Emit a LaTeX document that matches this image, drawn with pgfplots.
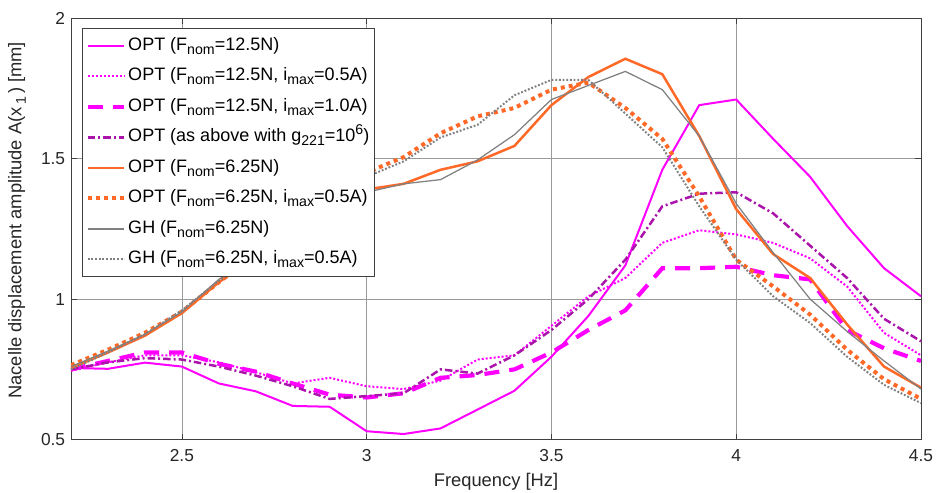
\documentclass[border=0pt]{standalone}
\usepackage{fontspec}
\setmainfont{Liberation Sans}
\usepackage{pgfplots}
\pgfplotsset{compat=1.18}
\usepackage{pgfplotstable}

\definecolor{optmag}{RGB}{255,0,255}
\definecolor{optpur}{RGB}{170,20,170}
\definecolor{optorg}{RGB}{255,105,40}
\definecolor{ghgray}{RGB}{128,128,128}
\definecolor{axcol}{RGB}{64,64,64}

% Nacelle displacement amplitude [mm] versus excitation frequency [Hz]
% s1: OPT 12.5N, s2: OPT 12.5N/0.5A, s3: OPT 12.5N/1.0A, s4: OPT g221=1e6,
% s5: OPT 6.25N, s6: OPT 6.25N/0.5A, s7: GH 6.25N, s8: GH 6.25N/0.5A
\pgfplotstableread{
f   s1    s2    s3    s4    s5    s6    s7    s8
2.2 0.755 0.745 0.750 0.750 0.755 0.765 0.760 0.750
2.3 0.752 0.775 0.780 0.775 0.810 0.820 0.815 0.810
2.4 0.774 0.800 0.810 0.790 0.870 0.880 0.875 0.875
2.5 0.760 0.800 0.810 0.785 0.950 0.955 0.955 0.960
2.6 0.700 0.775 0.770 0.760 1.060 1.060 1.070 1.065
2.7 0.672 0.740 0.742 0.728 1.150 1.160 1.160 1.160
2.8 0.620 0.700 0.700 0.690 1.240 1.260 1.250 1.260
2.9 0.617 0.720 0.660 0.645 1.320 1.360 1.330 1.350
3.0 0.530 0.690 0.650 0.655 1.390 1.450 1.380 1.435
3.1 0.520 0.680 0.665 0.665 1.410 1.505 1.410 1.490
3.2 0.540 0.710 0.720 0.750 1.460 1.590 1.425 1.575
3.3 0.607 0.785 0.730 0.735 1.490 1.650 1.495 1.620
3.4 0.674 0.800 0.750 0.800 1.545 1.680 1.585 1.725
3.5 0.795 0.905 0.810 0.890 1.690 1.745 1.710 1.780
3.6 0.940 1.010 0.890 1.000 1.790 1.770 1.760 1.780
3.7 1.120 1.075 0.960 1.140 1.855 1.680 1.810 1.660
3.8 1.460 1.200 1.110 1.330 1.800 1.570 1.745 1.540
3.9 1.690 1.245 1.110 1.375 1.580 1.365 1.580 1.330
4.0 1.710 1.230 1.115 1.380 1.320 1.140 1.340 1.140
4.1 1.570 1.200 1.085 1.305 1.160 1.045 1.165 1.010
4.2 1.435 1.145 1.070 1.190 1.075 0.945 1.000 0.915
4.3 1.260 1.045 0.890 1.075 0.910 0.820 0.885 0.795
4.4 1.110 0.880 0.825 0.930 0.760 0.715 0.780 0.695
4.5 1.010 0.800 0.780 0.850 0.685 0.645 0.680 0.630
}\amp

% lowered subscripts and raised superscripts for the legend and label text
\newcommand{\sub}[1]{\raisebox{-0.45ex}{\fontsize{8.5}{9}\selectfont #1}}
\newcommand{\super}[1]{\raisebox{0.75ex}{\fontsize{8.5}{9}\selectfont #1}}

\begin{document}
\begin{tikzpicture}
\begin{axis}[
  scale only axis,
  width=510pt, height=253pt,
  xmin=2.2, xmax=4.5, ymin=0.5, ymax=2,
  xtick={2.5,3,3.5,4,4.5},
  ytick={0.5,1,1.5,2},
  /pgf/number format/assume math mode=true,
  tick label style={font=\fontsize{10.4}{12}\selectfont, text=black!85},
  xticklabel style={yshift=-2.5pt},
  label style={font=\fontsize{11}{13}\selectfont, text=black!85},
  xlabel={Frequency [Hz]},
  ylabel={Nacelle displacement amplitude A(x\sub{\,1}\,) [mm]},
  xlabel style={at={(axis description cs:0.5,0)}, anchor=center, yshift=-25pt},
  ylabel style={at={(axis description cs:-0.0635,0.52)}, anchor=center},
  tick align=inside,
  major tick length=3.6pt,
  tick style={axcol, line width=0.4pt},
  axis line style={axcol, line width=0.5pt},
  grid=major,
  major grid style={gray!80, line width=0.4pt},
  legend cell align=left,
  legend style={
    at={(axis description cs:0,1)}, anchor=north west,
    xshift=6.6pt, yshift=-6pt,
    draw=axcol, line width=0.5pt, fill=white,
    font=\fontsize{10.8}{13}\selectfont,
    row sep=3.3pt,
    inner xsep=2pt, inner ysep=3pt,
    nodes={inner sep=1pt, text height=9pt, text depth=4pt},
  },
  legend image code/.code={%
    \draw[#1] (0pt,0pt) -- (22pt,0pt);
  },
]
\addplot[optmag, line width=1.2pt] table[x=f, y=s1] {\amp};
\addlegendentry{OPT (F\sub{nom}=12.5N)}
\addplot[optmag, line width=1.2pt, dash pattern=on 1.2pt off 1.2pt] table[x=f, y=s2] {\amp};
\addlegendentry{OPT (F\sub{nom}=12.5N, i\sub{max}=0.5A)}
\addplot[optmag, line width=2.5pt, dash pattern=on 9pt off 6pt] table[x=f, y=s3] {\amp};
\addlegendentry{OPT (F\sub{nom}=12.5N, i\sub{max}=1.0A)}
\addplot[optpur, line width=1.5pt, dash pattern=on 4.5pt off 1.8pt on 1.2pt off 1.8pt] table[x=f, y=s4] {\amp};
\addlegendentry{OPT (as above with g\sub{221}=10\super{6})}
\addplot[optorg, line width=1.5pt] table[x=f, y=s5] {\amp};
\addlegendentry{OPT (F\sub{nom}=6.25N)}
\addplot[optorg, line width=2.4pt, dash pattern=on 2.4pt off 2.4pt] table[x=f, y=s6] {\amp};
\addlegendentry{OPT (F\sub{nom}=6.25N, i\sub{max}=0.5A)}
\addplot[ghgray, line width=0.75pt] table[x=f, y=s7] {\amp};
\addlegendentry{GH (F\sub{nom}=6.25N)}
\addplot[ghgray, line width=1.2pt, dash pattern=on 1.1pt off 1.1pt] table[x=f, y=s8] {\amp};
\addlegendentry{GH (F\sub{nom}=6.25N, i\sub{max}=0.5A)}
\end{axis}
\pgfresetboundingbox
\path ([xshift=-42.6pt,yshift=-31.8pt]current axis.south west)
  rectangle ([xshift=9.6pt,yshift=10.8pt]current axis.north east);
\end{tikzpicture}
\end{document}
